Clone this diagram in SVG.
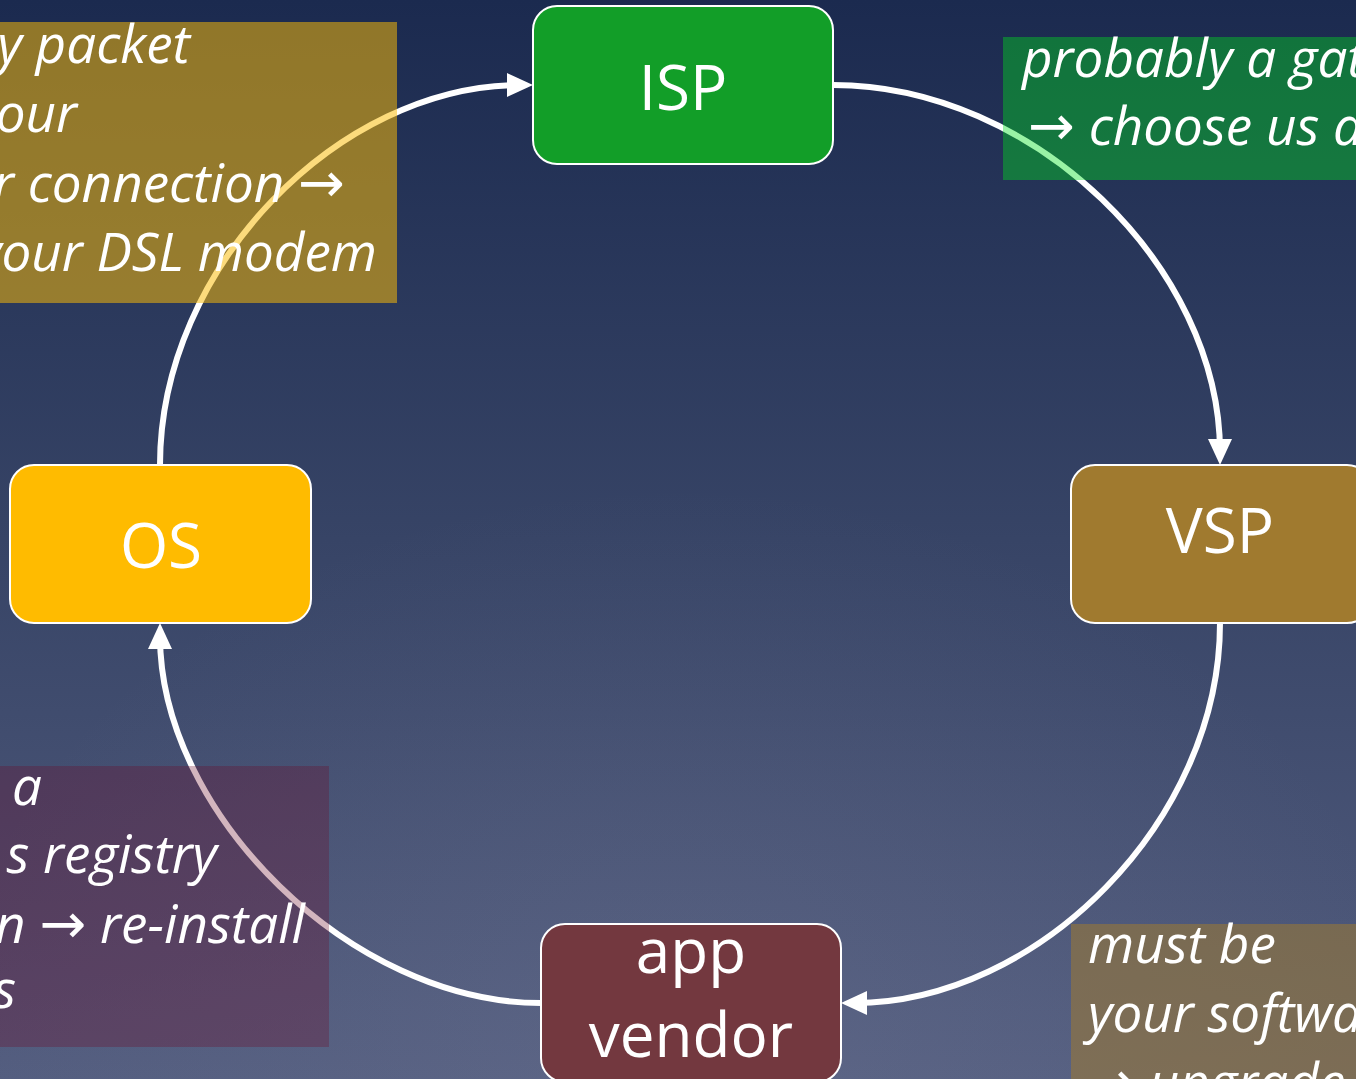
<svg xmlns="http://www.w3.org/2000/svg" width="1356" height="1079" viewBox="0 0 1356 1079">
  <defs>
    <linearGradient id="bg" x1="0" y1="0" x2="0" y2="1">
      <stop offset="0" stop-color="#1b2a4f"/>
      <stop offset="0.5" stop-color="#374466"/>
      <stop offset="1" stop-color="#535d7f"/>
    </linearGradient>
    <radialGradient id="glow" cx="0.5" cy="1" r="0.55">
      <stop offset="0" stop-color="#8c90a8" stop-opacity="0.18"/>
      <stop offset="1" stop-color="#8c90a8" stop-opacity="0"/>
    </radialGradient>
    <marker id="head" viewBox="0 0 26 24" markerWidth="26" markerHeight="24" markerUnits="userSpaceOnUse" refX="13" refY="12" orient="auto">
      <path d="M0,0 L26,12 L0,24 z" fill="#ffffff"/>
    </marker>
  </defs>
  <style>
    .flow { fill: none; stroke: #ffffff; stroke-width: 6; marker-end: url(#head); }
    .box { stroke: #ffffff; stroke-width: 2; }
    .label { font-family: "Open Sans", "Noto Sans", sans-serif; font-size: 62px; fill: #ffffff; text-anchor: middle; }
    .note { font-family: "Open Sans", "Noto Sans", sans-serif; font-size: 53px; font-style: italic; fill: #ffffff; }
    .end { text-anchor: end; }
    .arr { font-family: "DejaVu Sans", sans-serif; font-style: normal; font-size: 56px; }
  </style>

  <rect width="1356" height="1079" fill="url(#bg)"/>
  <rect width="1356" height="1079" fill="url(#glow)"/>

  <!-- cycle connectors -->
  <g id="connectors">
    <path class="flow" d="M160,465 C160,267 339,85 520,85"/>
    <path class="flow" d="M833,85 C1034,85 1220,267 1220,452"/>
    <path class="flow" d="M1220,623 C1220,821 1038,1003 854,1003"/>
    <path class="flow" d="M541,1003 C351,1003 160,813 160,636"/>
  </g>

  <!-- translucent remarks -->
  <g id="note-os">
    <rect x="-5" y="22" width="402" height="281" fill="#f9bb08" fill-opacity="0.53"/>
    <text class="note end" x="190" y="63">y packet</text>
    <text class="note end" x="77" y="132">our</text>
    <text class="note end" x="345" y="202">r connection <tspan class="arr">→</tspan></text>
    <text class="note end" x="377" y="271">your DSL modem</text>
  </g>
  <g id="note-isp">
    <rect x="1003" y="37" width="360" height="143" fill="#00e11e" fill-opacity="0.4"/>
    <text class="note" x="1022" y="77">probably a gat</text>
    <text class="note" x="1028" y="145"><tspan class="arr">→</tspan> choose us a</text>
  </g>
  <g id="note-app">
    <rect x="-5" y="766" width="334" height="281" fill="#6e0a28" fill-opacity="0.3"/>
    <text class="note end" x="42" y="805">a</text>
    <text class="note end" x="217" y="873">s registry</text>
    <text class="note end" x="305" y="943">n <tspan class="arr">→</tspan> re-install</text>
    <text class="note end" x="16" y="1008">s</text>
  </g>
  <g id="note-vsp">
    <rect x="1071" y="924" width="300" height="160" fill="#a07a2f" fill-opacity="0.53"/>
    <text class="note" x="1088" y="963">must be</text>
    <text class="note" x="1088" y="1032">your softwa</text>
    <text class="note" x="1088" y="1101"><tspan class="arr">→</tspan> upgrade</text>
  </g>

  <g id="node-isp">
    <rect class="box" x="533" y="6" width="300" height="158" rx="24" fill="#129e28"/>
    <text class="label" x="683" y="110">ISP</text>
  </g>
  <g id="node-vsp">
    <rect class="box" x="1071" y="465" width="300" height="158" rx="24" fill="#a07a2f"/>
    <text class="label" x="1220" y="553">VSP</text>
  </g>
  <g id="node-app">
    <rect class="box" x="541" y="924" width="300" height="158" rx="24" fill="#73383f"/>
    <text class="label" x="691" y="973">app</text>
    <text class="label" x="691" y="1057">vendor</text>
  </g>
  <g id="node-os">
    <rect class="box" x="10" y="465" width="301" height="158" rx="24" fill="#ffbb00"/>
    <text class="label" x="161" y="568">OS</text>
  </g>
</svg>
